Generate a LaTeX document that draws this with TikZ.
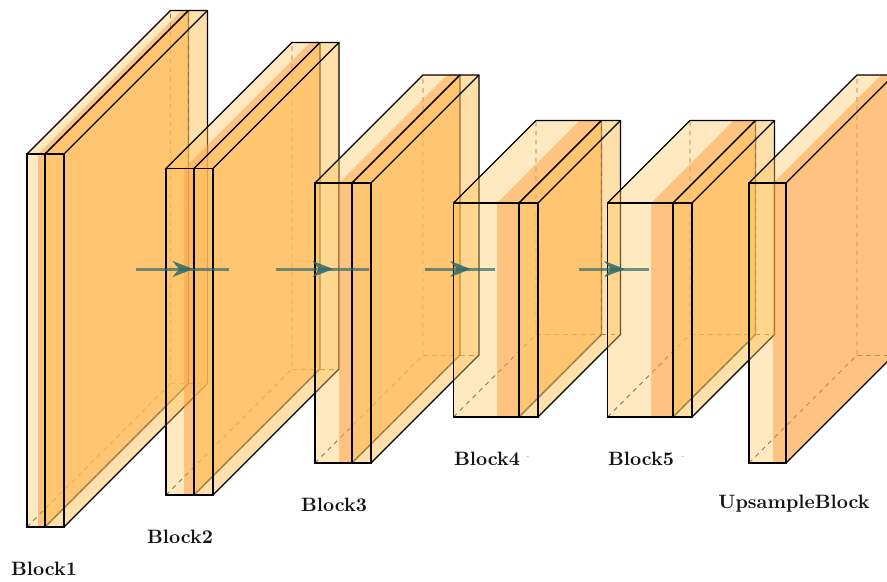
\documentclass[tikz,border=0pt]{standalone}
\usetikzlibrary{arrows.meta,decorations.markings}

\definecolor{palefill}{HTML}{FFC764}
\definecolor{stripfill}{HTML}{FFA94C}
\definecolor{flowcolor}{HTML}{2F6A6C}

\tikzset{
  hiddenline/.style={draw=black!75, line width=0.5pt, dash pattern=on 2.4pt off 2.4pt},
  paleface/.style={fill=palefill, fill opacity=0.4},
  stripface/.style={fill=stripfill, fill opacity=0.7},
  backface/.style={fill=palefill, fill opacity=0.55},
  edgeline/.style={draw=black, line width=0.65pt, line join=round},
  frontline/.style={draw=black, line width=0.7pt},
  blocklabel/.style={font=\fontsize{10.3}{12}\bfseries\selectfont, text=black!92},
  speckmark/.style={font=\fontsize{3}{3}\selectfont, text=black!60, inner sep=0pt},
  flowline/.style={draw=flowcolor, draw opacity=0.7, line width=1.6pt, postaction={decorate},
    decoration={markings, mark=at position #1 with {\arrow[fill=flowcolor, fill opacity=0.85, draw=flowcolor, line width=0.2pt]{Stealth[length=11pt, width=8.5pt, inset=3.5pt]}}}},
}

% left, strip start, right, top, bottom, depth
\newcommand{\hiddenedges}[5]{
  \draw[hiddenline] (#1,#4) -- ({#1+#5},{#4-#5}) -- ({#1+#5},{#3-#5});
  \draw[hiddenline] ({#1+#5},{#4-#5}) -- ({#2+#5},{#4-#5});
}
\newcommand{\stripcuboid}[6]{
  \hiddenedges{#1}{#3}{#4}{#5}{#6}
  \fill[paleface] (#1,#4) rectangle (#2,#5);
  \fill[paleface] (#1,#4) -- (#2,#4) -- ({#2+#6},{#4-#6}) -- ({#1+#6},{#4-#6}) -- cycle;
  \fill[stripface] (#2,#4) rectangle (#3,#5);
  \fill[stripface] (#2,#4) -- (#3,#4) -- ({#3+#6},{#4-#6}) -- ({#2+#6},{#4-#6}) -- cycle;
  \fill[stripface] (#3,#4) -- ({#3+#6},{#4-#6}) -- ({#3+#6},{#5-#6}) -- (#3,#5) -- cycle;
  \draw[edgeline] (#1,#4) -- ({#1+#6},{#4-#6}) -- ({#3+#6},{#4-#6}) -- ({#3+#6},{#5-#6}) -- (#3,#5);
  \draw[edgeline] (#3,#4) -- ({#3+#6},{#4-#6});
  \draw[frontline] (#1,#4) rectangle (#3,#5);
}
\newcommand{\plaincuboid}[5]{
  \hiddenedges{#1}{#2}{#3}{#4}{#5}
  \fill[backface] (#1,#3) rectangle (#2,#4);
  \fill[backface] (#1,#3) -- (#2,#3) -- ({#2+#5},{#3-#5}) -- ({#1+#5},{#3-#5}) -- cycle;
  \fill[backface] (#2,#3) -- ({#2+#5},{#3-#5}) -- ({#2+#5},{#4-#5}) -- (#2,#4) -- cycle;
  \draw[edgeline] (#1,#3) -- ({#1+#5},{#3-#5}) -- ({#2+#5},{#3-#5}) -- ({#2+#5},{#4-#5}) -- (#2,#4);
  \draw[edgeline] (#2,#3) -- ({#2+#5},{#3-#5});
  \draw[frontline] (#1,#3) rectangle (#2,#4);
}

\begin{document}
\begin{tikzpicture}[x=0.532pt, y=-0.532pt]
  \clip (0,0) rectangle (887,581);

  \stripcuboid{27}{38}{45}{154}{527}{143.5}
  \plaincuboid{45}{64}{154}{527}{143.5}

  \stripcuboid{166}{184}{194}{168.5}{495}{126}
  \plaincuboid{194}{213}{168.5}{495}{126}

  \stripcuboid{315}{339}{352}{183}{463}{108}
  \plaincuboid{352}{371}{183}{463}{108}

  \stripcuboid{453.5}{497}{519}{203}{417}{82.5}
  \plaincuboid{519}{538}{203}{417}{82.5}

  \stripcuboid{607.5}{651}{673}{203}{417}{82.5}
  \plaincuboid{673}{692}{203}{417}{82.5}

  \stripcuboid{749}{773}{786}{183}{463}{108}

  \coordinate (a1) at (136,269);
  \coordinate (b1) at (229,269);
  \coordinate (a2) at (276,269);
  \coordinate (b2) at (369,269);
  \coordinate (a3) at (425,269);
  \coordinate (b3) at (495,269);
  \coordinate (a4) at (579,269);
  \coordinate (b4) at (649,269);

  \draw[flowline=0.615] (a1) -- (b1);
  \draw[flowline=0.615] (a2) -- (b2);
  \draw[flowline=0.655] (a3) -- (b3);
  \draw[flowline=0.655] (a4) -- (b4);

  \node[blocklabel] (block1) at (44,568.5) {Block1};
  \node[blocklabel] (block2) at (180,536.5) {Block2};
  \node[blocklabel] (block3) at (334,505) {Block3};
  \node[blocklabel] (block4) at (487,459) {Block4};
  \node[blocklabel] (block5) at (641,459) {Block5};
  \node[blocklabel] (block6) at (794,504) {UpsampleBlock};
  \node[speckmark] (speck4) at (528,458) {-};
  \node[speckmark] (speck5) at (683,458) {-};
\end{tikzpicture}
\end{document}
